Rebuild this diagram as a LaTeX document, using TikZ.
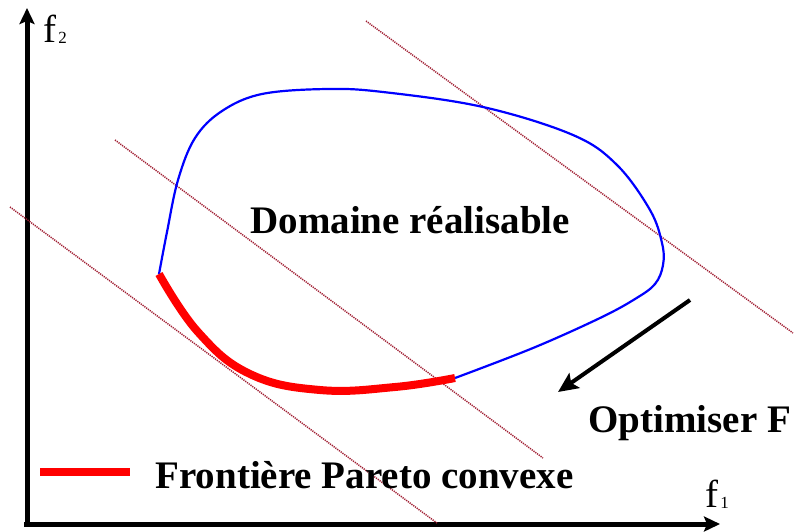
\documentclass[tikz,border=0pt]{standalone}
\usepackage{fontspec}
\setmainfont{Liberation Serif}
\usetikzlibrary{arrows.meta}
\definecolor{isored}{RGB}{160,30,50}
\definecolor{paretored}{RGB}{255,0,0}
\definecolor{domblue}{RGB}{0,0,255}
\newcommand{\idx}[1]{\kern1pt\raisebox{-0.5pt}{\fontsize{8.5}{10}\selectfont #1}}

\begin{document}
\begin{tikzpicture}[x=0.5pt,y=-0.5pt,
                    >={Stealth[length=8pt,width=7.5pt,inset=1.5pt]}]
  \tikzstyle{axis}=[line width=2.5pt,->]
  \tikzstyle{isoline}=[draw=isored,line width=0.75pt,dash pattern=on 0.6pt off 0.5pt]
  \tikzstyle{txt}=[font=\fontsize{19.5}{23}\selectfont\bfseries,inner sep=0pt]
  \tikzstyle{axtxt}=[font=\fontsize{19.5}{23}\selectfont,inner sep=0pt]
  \useasboundingbox (0,0) rectangle (796,531);

  % axes
  \coordinate (O)  at (27,524);
  \coordinate (Y)  at (27,8);
  \coordinate (X0) at (24,524);
  \coordinate (X)  at (720,524);
  \draw[axis] (O) -- (Y);
  \draw[axis] (X0) -- (X);
  \node[axtxt, anchor=base west] (f2) at (43,42) {f\idx{2}};
  \node[axtxt, anchor=base west] (f1) at (705,507) {f\idx{1}};

  % lignes de niveau
  \coordinate (a1) at (10,207);  \coordinate (b1) at (437,523);
  \coordinate (a2) at (115,140); \coordinate (b2) at (543,458);
  \coordinate (a3) at (366,21);  \coordinate (b3) at (793,333);
  \draw[isoline] (a1) -- (b1);
  \draw[isoline] (a2) -- (b2);
  \draw[isoline] (a3) -- (b3);

  % domaine
  \draw[domblue, line width=1.1pt] plot[smooth, tension=0.6] coordinates {
    (455,378) (533,348) (600,318) (635,299) (655,284) (663,265) (662,243)
    (650,210) (617,165) (573,135) (483,107) (383,92) (327,89) (262,94)
    (222,111) (195,138) (178,180) (167,232) (159,274)};
  \draw[paretored, line width=4pt] plot[smooth, tension=0.7] coordinates {
    (159,274) (198,332) (250,374) (320,390) (395,387) (455,378)};

  \node[txt, anchor=base west] (dom) at (250,233) {Domaine réalisable};

  % direction
  \coordinate (d0) at (690,300);
  \coordinate (d1) at (558,392);
  \draw[line width=2pt,->,>={Stealth[length=10pt,width=9pt,inset=2pt]}] (d0) -- (d1);
  \node[txt, anchor=base west] (opt) at (588,432) {Optimiser F};

  % legende
  \coordinate (l0) at (40,472);
  \coordinate (l1) at (130,472);
  \draw[paretored, line width=4pt] (l0) -- (l1);
  \node[txt, anchor=base west] (leg) at (155,488) {Frontière Pareto convexe};
\end{tikzpicture}
\end{document}
